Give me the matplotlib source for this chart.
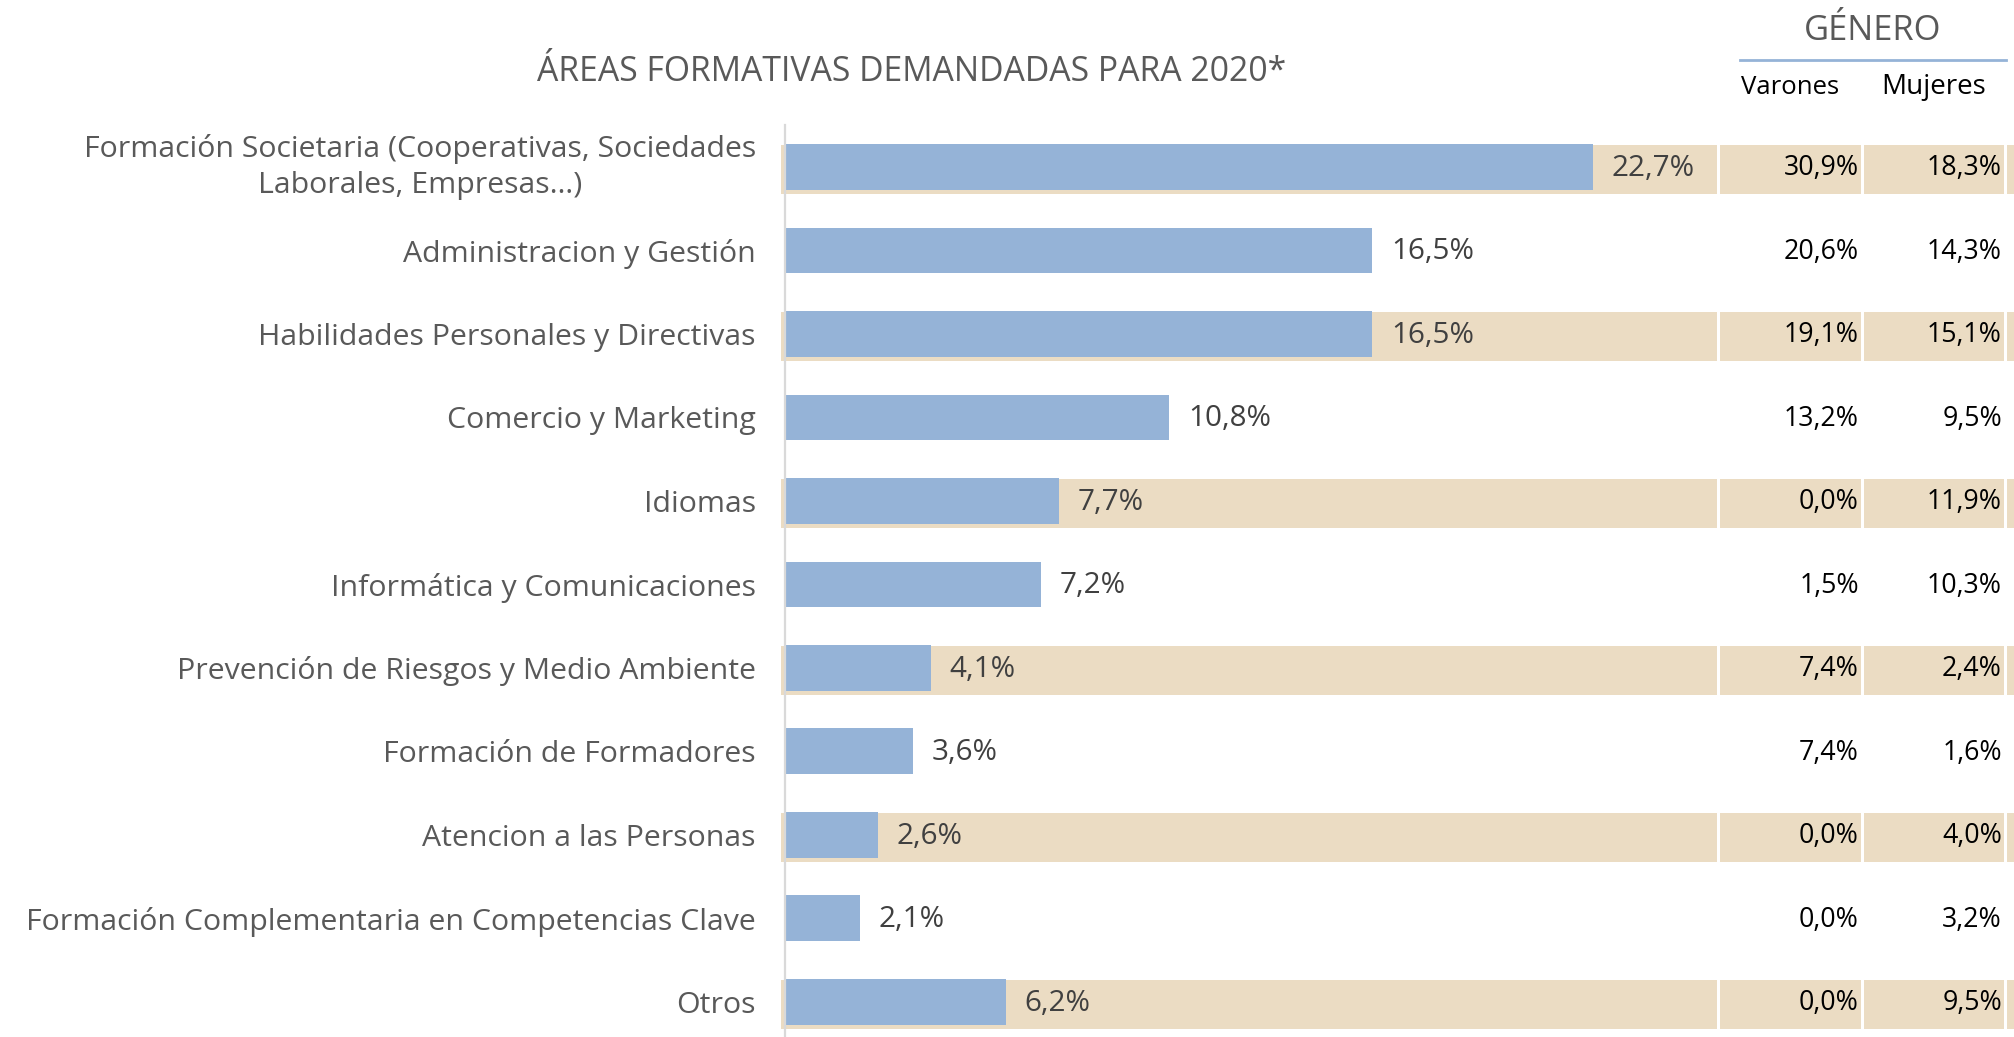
import matplotlib
matplotlib.use('Agg')
import matplotlib.pyplot as plt
from matplotlib.lines import Line2D

plt.rcParams['font.family'] = ['Open Sans', 'DejaVu Sans']

# datos
categorias = ['Formación Societaria (Cooperativas, Sociedades\nLaborales, Empresas…)',
              'Administracion y Gestión',
              'Habilidades Personales y Directivas',
              'Comercio y Marketing',
              'Idiomas',
              'Informática y Comunicaciones',
              'Prevención de Riesgos y Medio Ambiente',
              'Formación de Formadores',
              'Atencion a las Personas',
              'Formación Complementaria en Competencias Clave',
              'Otros']
total = [22.7, 16.5, 16.5, 10.8, 7.7, 7.2, 4.1, 3.6, 2.6, 2.1, 6.2]
varones = [30.9, 20.6, 19.1, 13.2, 0.0, 1.5, 7.4, 7.4, 0.0, 0.0, 0.0]
mujeres = [18.3, 14.3, 15.1, 9.5, 11.9, 10.3, 2.4, 1.6, 4.0, 3.2, 9.5]


def pct(v):
    return ('%.1f' % v).replace('.', ',') + '%'


azul = '#95B3D7'
beige = '#EBDCC3'
gris = '#595959'

W, H = 2015, 1037
fig = plt.figure(figsize=(W / 100, H / 100), dpi=100)
ax = fig.add_axes([785 / W, 0, 1 - 785 / W, 912 / H])
ax.set_xlim(0, 34.55)
ax.set_ylim(10.42, -0.503)

# columnas de la tabla (en unidades del eje)
banda_fin = 26.18
col_var = (26.26, 30.22)
col_muj = (30.31, 34.24)
col_extra = (34.33, 35.0)

filas = range(len(categorias))
for i in filas:
    if i % 2 == 0:
        yb = i + 0.03
        ax.barh(yb, banda_fin + 0.1, left=-0.1, height=0.59, color=beige, zorder=1, clip_on=False)
        for c in (col_var, col_muj, col_extra):
            ax.barh(yb, c[1] - c[0], left=c[0], height=0.59, color=beige, zorder=1, clip_on=False)

ax.barh(list(filas), total, height=0.55, color=azul, zorder=2)

for i in filas:
    ax.annotate(pct(total[i]), (total[i], i), xytext=(13.5, -1), textcoords='offset points',
                ha='left', va='center', fontsize=21.3, color='#404040', zorder=3)
    ax.annotate(pct(varones[i]), (col_var[1], i), xytext=(-1.5, -1), textcoords='offset points',
                ha='right', va='center', fontsize=19.3, color='black', zorder=3)
    ax.annotate(pct(mujeres[i]), (col_muj[1], i), xytext=(-1.5, -1), textcoords='offset points',
                ha='right', va='center', fontsize=19.3, color='black', zorder=3)

ax.set_yticks(list(filas))
ax.set_yticklabels(categorias, fontsize=21.8, color=gris)
for lbl in ax.get_yticklabels():
    lbl.set_multialignment('center')
    lbl.set_linespacing(1.3)
    if '\n' in lbl.get_text():
        lbl.set_va('center')
ax.tick_params(axis='y', length=0, pad=21)
ax.set_xticks([])
for s in ['top', 'right', 'bottom']:
    ax.spines[s].set_visible(False)
ax.spines['left'].set_color('#D9D9D9')
ax.spines['left'].set_linewidth(1.6)
ax.spines['left'].set_zorder(4)

# cabeceras
fig.text(912 / W, 1 - 72 / H, 'ÁREAS FORMATIVAS DEMANDADAS PARA 2020*', ha='center', va='center',
         fontsize=24.3, color=gris)
fig.text(1873 / W, 1 - 31 / H, 'GÉNERO', ha='center', va='center', fontsize=24.8, color=gris)
fig.add_artist(Line2D([1740 / W, 2006 / W], [1 - 60 / H, 1 - 60 / H], color=azul, lw=2))
fig.text(1790 / W, 1 - 87 / H, 'Varones', ha='center', va='center', fontsize=18.5, color='black')
fig.text(1934 / W, 1 - 87 / H, 'Mujeres', ha='center', va='center', fontsize=20, color='black')

fig.savefig('out.png', dpi=100)
